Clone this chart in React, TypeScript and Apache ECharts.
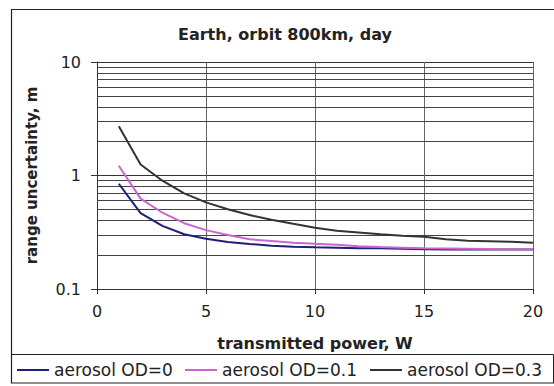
import React, { useEffect, useRef } from "react";
import * as echarts from "echarts";

const titleText = "Earth, orbit 800km, day";
const xName = "transmitted power, W";
const yName = "range uncertainty, m";
const power = [1, 2, 3, 4, 5, 6, 7, 8, 9, 10, 11, 12, 13, 14, 15, 16, 17, 18, 19, 20];
const od0 = [0.846, 0.467, 0.36, 0.304, 0.277, 0.26, 0.249, 0.241, 0.236, 0.233, 0.231, 0.229, 0.228, 0.226, 0.224, 0.223, 0.223, 0.223, 0.223, 0.223];
const od01 = [1.22, 0.625, 0.47, 0.38, 0.33, 0.299, 0.274, 0.265, 0.256, 0.25, 0.245, 0.238, 0.234, 0.231, 0.228, 0.227, 0.226, 0.225, 0.224, 0.224];
const od03 = [2.72, 1.25, 0.9, 0.695, 0.58, 0.505, 0.448, 0.408, 0.375, 0.346, 0.326, 0.315, 0.304, 0.294, 0.288, 0.275, 0.266, 0.264, 0.261, 0.255];
const seriesNames = ["aerosol OD=0", "aerosol OD=0.1", "aerosol OD=0.3"];
const minorLines = [0.2, 0.3, 0.4, 0.5, 0.6, 0.7, 0.8, 0.9, 2, 3, 4, 5, 6, 7, 8, 9];

const FONT = "DejaVu Sans";

export default function App() {
  const ref = useRef<HTMLDivElement>(null);
  useEffect(() => {
    if (!ref.current) return;
    const chart = echarts.init(ref.current, null, { renderer: "svg" });
    const colors = ["#1f1f7a", "#cc66cc", "#333333"];
    const datasets = [od0, od01, od03];
    const series: any[] = datasets.map((d, i) => ({
      name: seriesNames[i],
      type: "line",
      data: power.map((p, j) => [p, d[j]]),
      symbol: "none",
      lineStyle: { color: colors[i], width: 2 },
      itemStyle: { color: colors[i] },
      z: 3 + i,
    }));
    series[0].markLine = {
      silent: true,
      symbol: "none",
      label: { show: false },
      lineStyle: { color: "#444", width: 1, type: "solid" },
      emphasis: { disabled: true },
      data: minorLines.map((v) => ({ yAxis: v })),
      z: 1,
    };
    const legendCommon = {
      icon: "rect",
      itemWidth: 32,
      itemHeight: 2,
      top: 361,
      padding: 0,
      textStyle: { fontFamily: FONT, fontSize: 17, color: "#222", lineHeight: 18 },
    };
    chart.setOption({
      animation: false,
      backgroundColor: "#fff",
      title: {
        text: titleText,
        left: 178,
        top: 24,
        padding: 0,
        textStyle: { fontFamily: FONT, fontSize: 16, fontWeight: "bold", color: "#222", lineHeight: 20 },
      },
      legend: [
        { ...legendCommon, left: 17, data: [seriesNames[0]] },
        { ...legendCommon, left: 185, data: [seriesNames[1]] },
        { ...legendCommon, left: 370, data: [seriesNames[2]] },
      ],
      grid: { left: 97, right: 21, top: 62, bottom: 97, containLabel: false },
      xAxis: {
        type: "value",
        min: 0,
        max: 20,
        interval: 5,
        name: xName,
        nameLocation: "middle",
        nameGap: 46,
        nameTextStyle: { fontFamily: FONT, fontSize: 16, fontWeight: "bold", color: "#222" },
        axisLine: { show: true, onZero: false, lineStyle: { color: "#333", width: 1 } },
        axisTick: { show: true, inside: false, length: 5, lineStyle: { color: "#333" } },
        axisLabel: { fontFamily: FONT, fontSize: 16, color: "#222", margin: 14 },
        splitLine: { show: true, lineStyle: { color: "#666", width: 1 } },
      },
      yAxis: {
        type: "log",
        logBase: 10,
        min: 0.1,
        max: 10,
        name: yName,
        nameLocation: "middle",
        nameGap: 58,
        nameTextStyle: { fontFamily: FONT, fontSize: 15, fontWeight: "bold", color: "#222" },
        axisLine: { show: true, lineStyle: { color: "#333", width: 1 } },
        axisTick: { show: true, inside: false, length: 6, lineStyle: { color: "#333" } },
        axisLabel: { fontFamily: FONT, fontSize: 16, color: "#222", margin: 16 },
        splitLine: { show: true, lineStyle: { color: "#333", width: 1 } },
        minorTick: { show: false },
        minorSplitLine: { show: false },
      },
      graphic: [
        {
          type: "rect",
          shape: { x: 11.5, y: 9.5, width: 560, height: 373.5 },
          style: { fill: "none", stroke: "#222", lineWidth: 1.2 },
          silent: true,
          z: -1,
        },
        {
          type: "line",
          shape: { x1: 11.5, y1: 354.5, x2: 553.5, y2: 354.5 },
          style: { stroke: "#222", lineWidth: 1 },
          silent: true,
        },
        {
          type: "line",
          shape: { x1: 553.5, y1: 354.5, x2: 553.5, y2: 383 },
          style: { stroke: "#222", lineWidth: 1 },
          silent: true,
        },
      ],
      series,
    });
    return () => chart.dispose();
  }, []);
  return (
    <div
      ref={ref}
      style={{ position: "fixed", left: 0, top: 0, width: 554, height: 386 }}
    />
  );
}
